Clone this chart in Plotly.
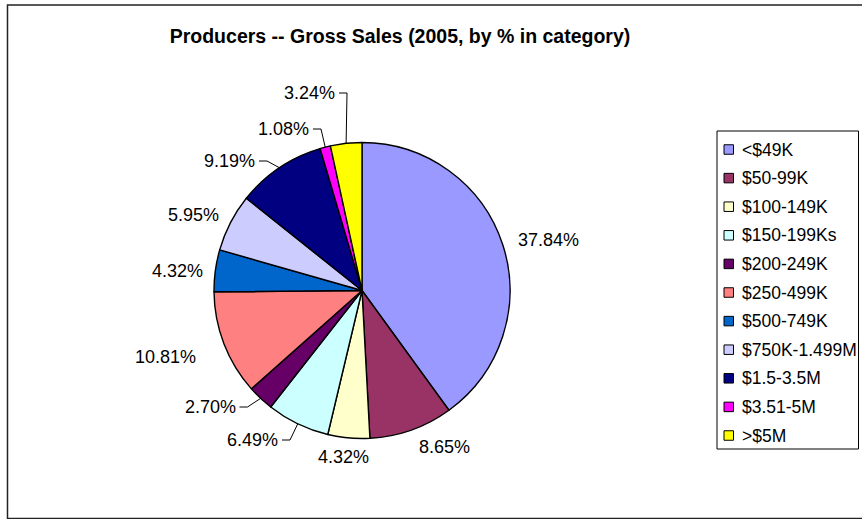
import math
import plotly.graph_objects as go

# ---- data ----
categories = ['<$49K', '$50-99K', '$100-149K', '$150-199Ks', '$200-249K', '$250-499K',
              '$500-749K', '$750K-1.499M', '$1.5-3.5M', '$3.51-5M', '>$5M']
percent_values = [37.84, 8.65, 4.32, 6.49, 2.70, 10.81, 4.32, 5.95, 9.19, 1.08, 3.24]
slice_labels = [f"{v:.2f}%" for v in percent_values]

# ---- styles / layout ----
colors = ['#9999FF', '#993366', '#FFFFCC', '#CCFFFF', '#660066', '#FF8080',
          '#0066CC', '#CCCCFF', '#000080', '#FF00FF', '#FFFF00']
W, H = 862, 519
CX, CY, R = 362, 290.5, 148
FONT = "Arial, Liberation Sans, sans-serif"

# label placement (pixel x, pixel y, x-anchor, has leader line)
label_layout = [
    (516, 240, 'left', False),
    (417, 447, 'left', False),
    (316, 457, 'left', False),
    (280, 440, 'right', True),
    (237.5, 407, 'right', True),
    (198, 357, 'right', False),
    (205, 271, 'right', False),
    (221, 215, 'right', False),
    (257, 161, 'right', True),
    (311, 129, 'right', True),
    (337, 93, 'right', True),
]


def px(x):
    return x / W


def py(y):
    return 1 - y / H


fig = go.Figure()
fig.add_trace(go.Pie(
    labels=categories, values=percent_values, sort=False, direction='clockwise',
    rotation=0, textinfo='none', showlegend=False,
    marker=dict(colors=colors, line=dict(color='black', width=1.4)),
    domain=dict(x=[px(CX - R), px(CX + R)], y=[py(CY + R), py(CY - R)]),
))

shapes = []
annotations = []
total = sum(percent_values)
cum = 0.0
for i, v in enumerate(percent_values):
    mid = (cum + v / 2) / total * 2 * math.pi
    cum += v
    rx, ry = CX + R * math.sin(mid), CY - R * math.cos(mid)
    lx, ly, anc, leader = label_layout[i]
    annotations.append(dict(x=px(lx), y=py(ly), xref='paper', yref='paper', text=slice_labels[i],
                            showarrow=False, xanchor=anc, yanchor='middle',
                            font=dict(family=FONT, size=18, color='black')))
    if leader:
        sx = lx + 2 if anc == 'right' else lx - 2
        ex = lx + 10 if anc == 'right' else lx - 10
        shapes.append(dict(type='path', xref='paper', yref='paper',
                           path=f"M {px(sx)} {py(ly)} L {px(ex)} {py(ly)} L {px(rx)} {py(ry)}",
                           line=dict(color='black', width=1)))

# legend (manual, Excel-style)
LX0, LY0, LX1, LY1 = 717, 131, 858.5, 449
shapes.append(dict(type='rect', xref='paper', yref='paper', x0=px(LX0), x1=px(LX1),
                   y0=py(LY1), y1=py(LY0), line=dict(color='black', width=1)))
for i, (cat, col) in enumerate(zip(categories, colors)):
    yc = 149.5 + i * 28.6
    shapes.append(dict(type='rect', xref='paper', yref='paper', x0=px(724), x1=px(733.5),
                       y0=py(yc + 4.75), y1=py(yc - 4.75), fillcolor=col,
                       line=dict(color='black', width=1)))
    annotations.append(dict(x=px(740), y=py(yc), xref='paper', yref='paper', text=cat,
                            showarrow=False, xanchor='left', yanchor='middle',
                            font=dict(family=FONT, size=17.5, color='black')))

# outer chart frame
shapes.append(dict(type='rect', xref='paper', yref='paper', x0=px(7.5), x1=px(875),
                   y0=py(518.5), y1=py(5), line=dict(color='#222222', width=1.5)))

fig.update_layout(
    width=W, height=H, margin=dict(l=0, r=0, t=0, b=0),
    paper_bgcolor='white', plot_bgcolor='white',
    title=dict(text='<b>Producers -- Gross Sales (2005, by % in category)</b>',
               x=px(400), y=py(36), xanchor='center', yanchor='middle',
               font=dict(family=FONT, size=19.5, color='black')),
    shapes=shapes, annotations=annotations,
)

fig.write_html("out.html")
